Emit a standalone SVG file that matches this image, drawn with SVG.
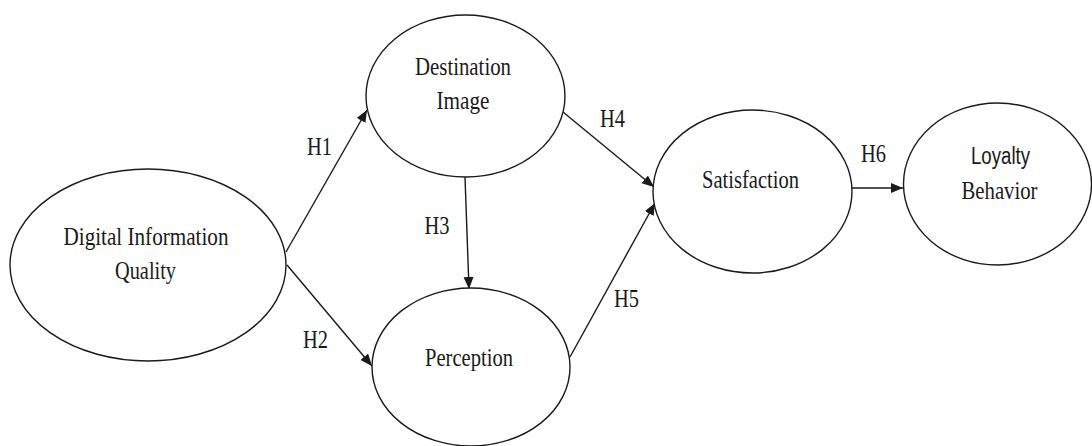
<svg xmlns="http://www.w3.org/2000/svg" width="1092" height="446" viewBox="0 0 1092 446">
  <style>
    .node { fill: #ffffff; stroke: #1a1a1a; stroke-width: 1.4; }
    .lbl { font-family: "Liberation Serif", "Times New Roman", serif; font-size: 26px; fill: #1a1a1a; text-anchor: middle; }
    .sans { font-family: "Liberation Sans", Arial, sans-serif; font-size: 23px; }
    .edge { stroke: #1a1a1a; stroke-width: 1.4; fill: none; marker-end: url(#arrow); }
  </style>
  <defs>
    <marker id="arrow" markerUnits="userSpaceOnUse" markerWidth="13" markerHeight="11" refX="12" refY="5" orient="auto">
      <path d="M0,0 L12,5 L0,10 Z" fill="#1a1a1a"/>
    </marker>
  </defs>
  <rect width="1092" height="446" fill="#ffffff"/>

  <g id="connectors">
    <line class="edge" x1="286" y1="252" x2="367" y2="110"/>
    <line class="edge" x1="287" y1="265" x2="372" y2="366"/>
    <line class="edge" x1="465" y1="177" x2="469" y2="289"/>
    <line class="edge" x1="563" y1="112" x2="654" y2="187"/>
    <line class="edge" x1="570" y1="357" x2="655" y2="203"/>
    <line class="edge" x1="852" y1="188" x2="903" y2="188"/>
    <text class="lbl" x="319.5" y="155" textLength="25" lengthAdjust="spacingAndGlyphs">H1</text>
    <text class="lbl" x="315.5" y="348" textLength="25" lengthAdjust="spacingAndGlyphs">H2</text>
    <text class="lbl" x="437" y="234" textLength="25" lengthAdjust="spacingAndGlyphs">H3</text>
    <text class="lbl" x="612.5" y="127" textLength="25" lengthAdjust="spacingAndGlyphs">H4</text>
    <text class="lbl" x="626.5" y="307" textLength="25" lengthAdjust="spacingAndGlyphs">H5</text>
    <text class="lbl" x="873.5" y="162" textLength="25" lengthAdjust="spacingAndGlyphs">H6</text>
  </g>

  <g id="digital-information-quality">
    <ellipse class="node" cx="148" cy="265" rx="138" ry="96"/>
    <text class="lbl" x="146" y="245" textLength="165" lengthAdjust="spacingAndGlyphs">Digital Information</text>
    <text class="lbl" x="145.5" y="279" textLength="61" lengthAdjust="spacingAndGlyphs">Quality</text>
  </g>

  <g id="destination-image">
    <ellipse class="node" cx="465.5" cy="96" rx="99.5" ry="81"/>
    <text class="lbl" x="463" y="75" textLength="96" lengthAdjust="spacingAndGlyphs">Destination</text>
    <text class="lbl" x="463" y="109" textLength="53" lengthAdjust="spacingAndGlyphs">Image</text>
  </g>

  <g id="perception">
    <ellipse class="node" cx="471" cy="367" rx="99" ry="79"/>
    <text class="lbl" x="469" y="366" textLength="88" lengthAdjust="spacingAndGlyphs">Perception</text>
  </g>

  <g id="satisfaction">
    <ellipse class="node" cx="752.5" cy="191.5" rx="99.5" ry="81.5"/>
    <text class="lbl" x="750.5" y="188" textLength="97" lengthAdjust="spacingAndGlyphs">Satisfaction</text>
  </g>

  <g id="loyalty-behavior">
    <ellipse class="node" cx="997.5" cy="184" rx="94" ry="81"/>
    <text class="lbl sans" x="1000.5" y="164" textLength="59" lengthAdjust="spacingAndGlyphs">Loyalty</text>
    <text class="lbl" x="999.5" y="199" textLength="76" lengthAdjust="spacingAndGlyphs">Behavior</text>
  </g>
</svg>
